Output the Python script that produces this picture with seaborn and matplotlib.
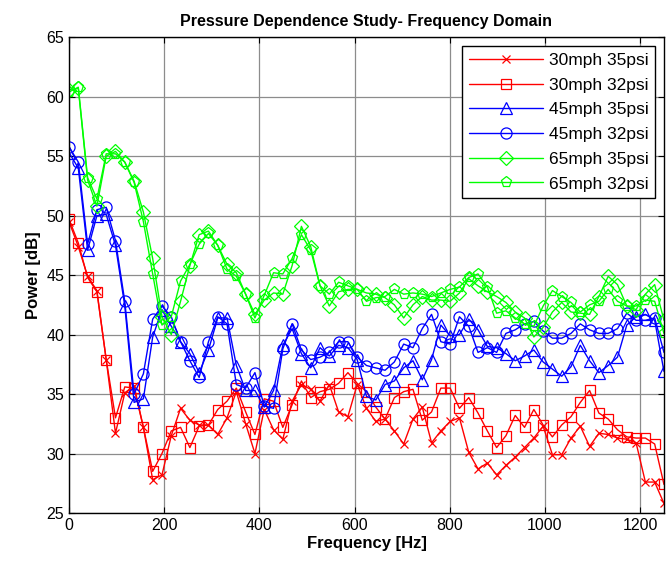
import numpy as np
import pandas as pd
import matplotlib
matplotlib.use('Agg')
import matplotlib.pyplot as plt
import seaborn as sns

# frequency bins: 65 points from 0 to 1250 Hz
freq = np.arange(65) * 1250 / 64

# 30mph 35psi
p30_35 = [49.5, 47.4, 44.9, 43.7, 37.9, 31.7, 35.1, 35.7, 32.2, 27.8,
          28.2, 31.5, 33.8, 32.8, 32.4, 32.4, 31.6, 33.0, 35.2, 32.5,
          30.0, 33.7, 32.0, 31.2, 34.4, 35.8, 35.4, 34.4, 35.8, 33.5,
          33.1, 35.8, 33.8, 32.7, 32.9, 31.9, 30.8, 32.9, 33.9, 30.9,
          31.9, 32.7, 33.0, 30.1, 28.7, 29.2, 28.2, 29.0, 29.7, 30.5,
          31.3, 32.3, 29.9, 29.9, 31.3, 32.3, 30.6, 31.7, 31.6, 31.3,
          31.2, 30.9, 27.6, 27.6, 25.8]
# 30mph 32psi
p30_32 = [49.7, 47.7, 44.8, 43.6, 37.9, 33.0, 35.6, 35.5, 32.2, 28.5,
          30.0, 31.9, 32.2, 30.5, 32.3, 32.4, 33.7, 34.4, 35.5, 33.5,
          31.6, 34.6, 34.4, 32.2, 34.1, 36.1, 34.7, 35.2, 35.4, 35.9,
          36.8, 35.9, 35.2, 33.9, 32.9, 34.7, 35.2, 35.4, 32.8, 33.5,
          35.5, 35.5, 33.8, 34.7, 33.4, 31.9, 30.5, 31.5, 33.2, 32.2,
          33.7, 32.4, 31.4, 32.4, 33.1, 34.3, 35.3, 33.4, 32.9, 32.0,
          31.4, 31.3, 31.3, 30.8, 27.4]
# 45mph 35psi
p45_35 = [55.3, 54.0, 47.1, 50.0, 50.1, 47.5, 42.4, 34.3, 34.6, 39.8,
          42.1, 40.7, 39.4, 38.4, 36.8, 38.7, 41.4, 41.4, 37.4, 35.3,
          35.3, 33.9, 35.3, 39.1, 40.5, 38.4, 37.2, 38.9, 38.2, 39.1,
          38.9, 37.9, 34.8, 34.5, 35.8, 36.1, 37.2, 37.8, 36.2, 37.9,
          40.8, 39.9, 40.0, 41.3, 40.4, 39.0, 38.9, 38.4, 37.8, 38.2,
          38.7, 37.7, 37.1, 36.5, 37.3, 39.1, 37.8, 36.8, 37.4, 38.1,
          40.8, 41.5, 41.7, 41.2, 36.9]
# 45mph 32psi
p45_32 = [55.8, 54.5, 47.6, 50.5, 50.7, 47.9, 42.8, 35.0, 36.7, 41.3,
          42.4, 41.5, 39.4, 37.8, 36.4, 39.4, 41.5, 40.9, 35.8, 35.5,
          36.8, 34.0, 33.8, 38.8, 40.9, 38.7, 37.9, 38.1, 38.5, 39.4,
          39.4, 38.1, 37.4, 37.2, 37.0, 37.7, 39.2, 38.9, 40.5, 41.7,
          39.4, 39.2, 41.5, 40.7, 38.5, 38.9, 38.5, 40.1, 40.4, 40.9,
          41.1, 40.3, 39.7, 39.7, 40.1, 40.9, 40.4, 40.1, 40.1, 40.5,
          41.8, 41.2, 41.2, 41.4, 38.5]
# 65mph 35psi
p65_35 = [60.6, 60.7, 53.0, 50.8, 55.0, 55.4, 54.5, 52.9, 50.3, 46.4,
          41.5, 40.0, 42.8, 45.8, 48.4, 48.7, 47.5, 45.9, 45.2, 43.4,
          41.7, 42.9, 43.5, 43.4, 45.8, 49.1, 47.4, 44.1, 42.4, 43.6,
          43.8, 43.8, 43.5, 43.4, 43.1, 42.5, 41.4, 42.5, 43.2, 42.9,
          42.9, 42.8, 43.5, 44.7, 44.1, 43.6, 43.2, 42.7, 41.9, 41.4,
          39.8, 40.6, 41.9, 42.7, 41.9, 41.8, 41.7, 43.2, 44.9, 44.2,
          42.4, 42.1, 43.4, 44.2, 41.2]
# 65mph 32psi
p65_32 = [60.4, 60.8, 53.2, 51.4, 55.2, 55.2, 54.5, 52.8, 49.5, 45.1,
          40.8, 41.5, 44.5, 45.9, 47.6, 48.5, 47.5, 45.5, 44.9, 43.4,
          41.4, 43.3, 45.2, 45.1, 46.4, 48.4, 47.1, 44.1, 43.4, 44.4,
          44.1, 43.8, 42.8, 43.1, 43.2, 43.8, 43.4, 43.5, 43.4, 43.2,
          43.5, 43.8, 44.0, 44.8, 45.1, 44.0, 41.8, 42.0, 41.4, 40.9,
          40.7, 42.4, 43.7, 43.2, 42.7, 41.9, 42.5, 42.8, 43.8, 42.8,
          42.4, 42.4, 42.9, 42.8, 40.1]

labels = ['30mph 35psi', '30mph 32psi', '45mph 35psi',
          '45mph 32psi', '65mph 35psi', '65mph 32psi']
series = [p30_35, p30_32, p45_35, p45_32, p65_35, p65_32]
colors = ['#ff0000', '#ff0000', '#0000ff', '#0000ff', '#00ff00', '#00ff00']
markers = ['x', 's', '^', 'o', 'D', 'p']
msizes = [6, 7, 8, 8, 7, 8]

sns.set_style('ticks')
plt.rcParams['font.family'] = ['Liberation Sans', 'DejaVu Sans']
plt.rcParams['text.color'] = 'black'
plt.rcParams['axes.labelcolor'] = 'black'
plt.rcParams['xtick.color'] = 'black'
plt.rcParams['ytick.color'] = 'black'

fig = plt.figure(figsize=(6.7, 5.61), dpi=100)
ax = fig.add_axes([0.103, 0.0856, 0.888, 0.848])

for lab, vals, c, m, ms in zip(labels, series, colors, markers, msizes):
    sns.lineplot(x=freq, y=vals, color=c, marker=m, markersize=ms,
                 markerfacecolor='none', markeredgecolor=c,
                 markeredgewidth=0.9, linewidth=1.0, label=lab, ax=ax)

ax.set_xlim(0, 1250)
ax.set_ylim(25, 65)
ax.set_xticks(np.arange(0, 1201, 200))
ax.set_yticks(np.arange(25, 66, 5))
ax.grid(True, color='#8c8c8c', linewidth=0.9)
ax.tick_params(direction='in', top=True, right=True, labelsize=11.5, length=4)
for s in ax.spines.values():
    s.set_color('black')
    s.set_linewidth(1.0)

ax.set_xlabel('Frequency [Hz]', fontsize=12, fontweight='bold', labelpad=2)
ax.set_ylabel('Power [dB]', fontsize=12, fontweight='bold', labelpad=4)
ax.set_title('Pressure Dependence Study- Frequency Domain',
             fontsize=11.5, fontweight='bold', pad=8, color='black')

leg = ax.legend(loc='upper right', fontsize=12.5, handlelength=4.3,
                frameon=True, fancybox=False, borderaxespad=0.5,
                labelspacing=0.55, handletextpad=0.3, borderpad=0.4)
leg.get_frame().set_edgecolor('black')
leg.get_frame().set_linewidth(1.0)
leg.get_frame().set_alpha(1.0)

fig.savefig('out.png', dpi=100)
